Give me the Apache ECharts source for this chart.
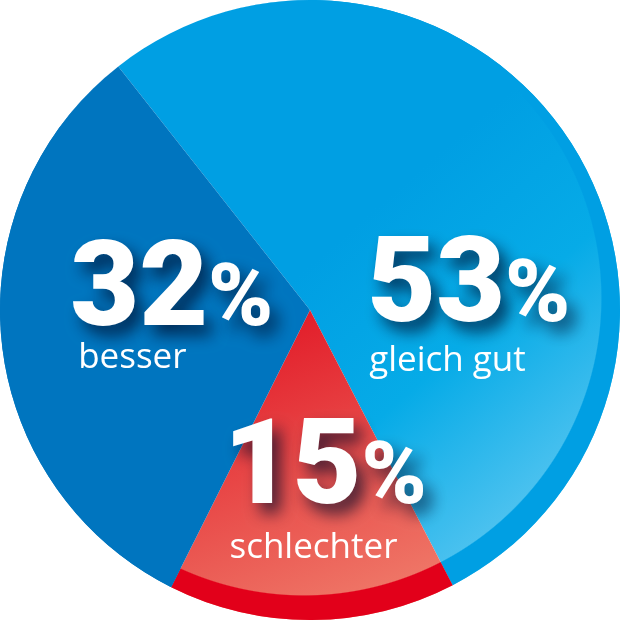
<!DOCTYPE html>
<html>
<head>
<meta charset="utf-8">
<script src="https://cdn.jsdelivr.net/npm/echarts@6/dist/echarts.min.js"></script>
<style>
html,body{margin:0;padding:0;background:#fff;}
#chart{width:620px;height:620px;}
</style>
</head>
<body>
<div id="chart"></div>
<script>
// ---- data ----
const categories = ['gleich gut', 'schlechter', 'besser'];
const values = [53, 15, 32];

// ---- styles ----
const rimColors = ['#009fe3', '#e2001a', '#0075bf'];
const rimRgb = ['0,159,227', '226,0,26', '0,117,191'];
const faceColors = [
  {type:'linear', global:true, x:350, y:230, x2:585, y2:500,
   colorStops:[{offset:0,color:'#009fe3'},{offset:0.45,color:'#06abe7'},{offset:1,color:'#5cc7f1'}]},
  {type:'linear', global:true, x:270, y:320, x2:380, y2:600,
   colorStops:[{offset:0,color:'#e21c29'},{offset:1,color:'#ef7868'}]},
  '#0075bf'
];
const labelOffsets = [[26, 83], [14, 22], [19, -14]];
const namePadding = [[15,0,0,2], [23,0,0,6], [0,0,0,8]];

const chart = echarts.init(document.getElementById('chart'), null, {renderer:'canvas'});

const faceData = categories.map((c, i) => ({
  name: c, value: values[i], itemStyle: {color: faceColors[i]}
}));
const rimData = categories.map((c, i) => ({
  name: c, value: values[i],
  itemStyle: {color: {type:'radial', global:true, x:304, y:298, r:298,
    colorStops:[{offset:0,color:'rgba('+rimRgb[i]+',0)'},
                {offset:0.996,color:'rgba('+rimRgb[i]+',0)'},
                {offset:1,color:rimColors[i]}]}},
  label: {offset: labelOffsets[i], rich: {name: {padding: namePadding[i]}}}
}));

const shadow = {textShadowColor:'rgba(0,10,40,0.7)', textShadowBlur:16, textShadowOffsetX:8, textShadowOffsetY:10};

chart.setOption({
  animation: false,
  series: [
    {
      type: 'pie', center: ['50%','50%'], radius: [0, 310], startAngle: 128.2,
      clockwise: true, silent: true, label: {show:false}, labelLine:{show:false},
      itemStyle: {borderWidth:0}, data: faceData
    },
    {
      type: 'pie', center: ['50%','50%'], radius: [0, 310], startAngle: 128.2,
      clockwise: true, silent: true, labelLine:{show:false},
      itemStyle: {borderWidth:0},
      label: {
        show: true, position: 'inside',
        formatter: p => '{num|' + p.value + '}{pct|%}\n{name|' + p.name + '}',
        rich: {
          num: Object.assign({fontFamily:'Roboto', fontWeight:900, fontSize:119, color:'#fff',
                lineHeight:93, verticalAlign:'middle', align:'left'}, shadow),
          pct: Object.assign({fontFamily:'Roboto', fontWeight:900, fontSize:88, color:'#fff',
                lineHeight:93, verticalAlign:'middle', align:'left', padding:[16,0,0,0]}, shadow),
          name: {fontFamily:'Open Sans', fontWeight:400, fontSize:35, color:'#fff',
                lineHeight:33, align:'left', verticalAlign:'middle', padding:[0,0,0,4]}
        }
      },
      data: rimData
    }
  ]
});
</script>
</body>
</html>
